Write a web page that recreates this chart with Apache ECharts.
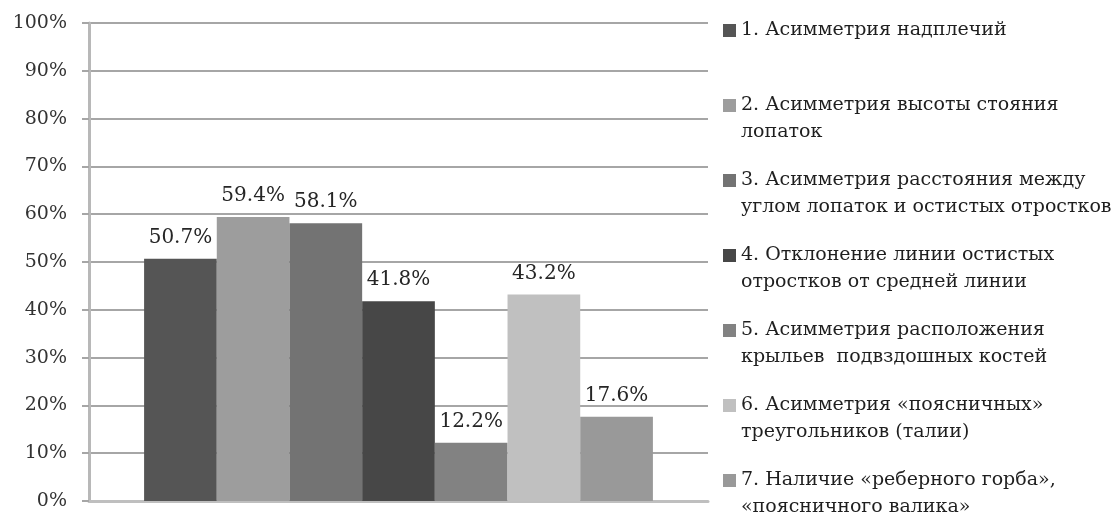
<!DOCTYPE html>
<html>
<head>
<meta charset="utf-8">
<script src="https://cdn.jsdelivr.net/npm/echarts@6/dist/echarts.min.js"></script>
<style>
  html, body { margin: 0; padding: 0; background: #fff; }
  #chart { width: 1117px; height: 513px; }
</style>
</head>
<body>
<div id="chart"></div>
<script>
// One category, seven indicators (share of examined children, %)
const categories = [''];
const seriesNames = [
  '1. Асимметрия надплечий',
  '2. Асимметрия высоты стояния\nлопаток',
  '3. Асимметрия расстояния между\nуглом лопаток и остистых отростков',
  '4. Отклонение линии остистых\nотростков от средней линии',
  '5. Асимметрия расположения\nкрыльев  подвздошных костей',
  '6. Асимметрия «поясничных»\nтреугольников (талии)',
  '7. Наличие «реберного горба»,\n«поясничного валика»'
];
const seriesValues = [50.7, 59.4, 58.1, 41.8, 12.2, 43.2, 17.6];
const yTicks = { min: 0, max: 100, step: 10 };

const palette = ['#555555', '#9d9d9d', '#737373', '#474747', '#828282', '#c0c0c0', '#999999'];

const serif = 'DejaVu Serif';
const lineH = 27;

const chart = echarts.init(document.getElementById('chart'), null, { renderer: 'canvas' });

const series = seriesNames.map((name, i) => ({
  name: name,
  type: 'bar',
  data: [seriesValues[i]],
  barGap: '0%',
  barCategoryGap: '17.8%',
  itemStyle: { color: palette[i] },
  label: {
    show: true,
    position: 'top',
    distance: 11,
    fontFamily: serif,
    fontSize: 20,
    color: '#262626',
    formatter: p => p.value.toFixed(1) + '%'
  }
}));

chart.setOption({
  animation: false,
  backgroundColor: '#ffffff',
  grid: { left: 89, right: 409, top: 23, bottom: 12, containLabel: false },
  legend: {
    orient: 'vertical',
    left: 723,
    top: -10,
    height: 700,
    padding: 0,
    itemGap: -6,
    itemWidth: 13,
    itemHeight: 13,
    icon: 'rect',
    selectedMode: false,
    // three-line block: the icon lines up with the middle line, i.e. the first line of the name
    formatter: name => '\n' + name + (name.indexOf('\n') >= 0 ? '' : '\n'),
    textStyle: { fontFamily: serif, fontSize: 19, color: '#1f1f1f', lineHeight: lineH }
  },
  xAxis: {
    type: 'category',
    data: categories,
    axisLine: { show: true, lineStyle: { color: '#bfbfbf', width: 3 } },
    axisTick: { show: false },
    axisLabel: { show: false },
    splitLine: { show: false }
  },
  yAxis: {
    type: 'value',
    min: yTicks.min,
    max: yTicks.max,
    interval: yTicks.step,
    axisLine: { show: true, lineStyle: { color: '#b8b8b8', width: 3 } },
    axisTick: { show: true, length: 7, lineStyle: { color: '#a6a6a6', width: 2 } },
    axisLabel: {
      margin: 22,
      fontFamily: serif,
      fontSize: 19,
      color: '#333333',
      formatter: '{value}%'
    },
    splitLine: { show: true, lineStyle: { color: '#a6a6a6', width: 2 } }
  },
  series: series
});
</script>
</body>
</html>
